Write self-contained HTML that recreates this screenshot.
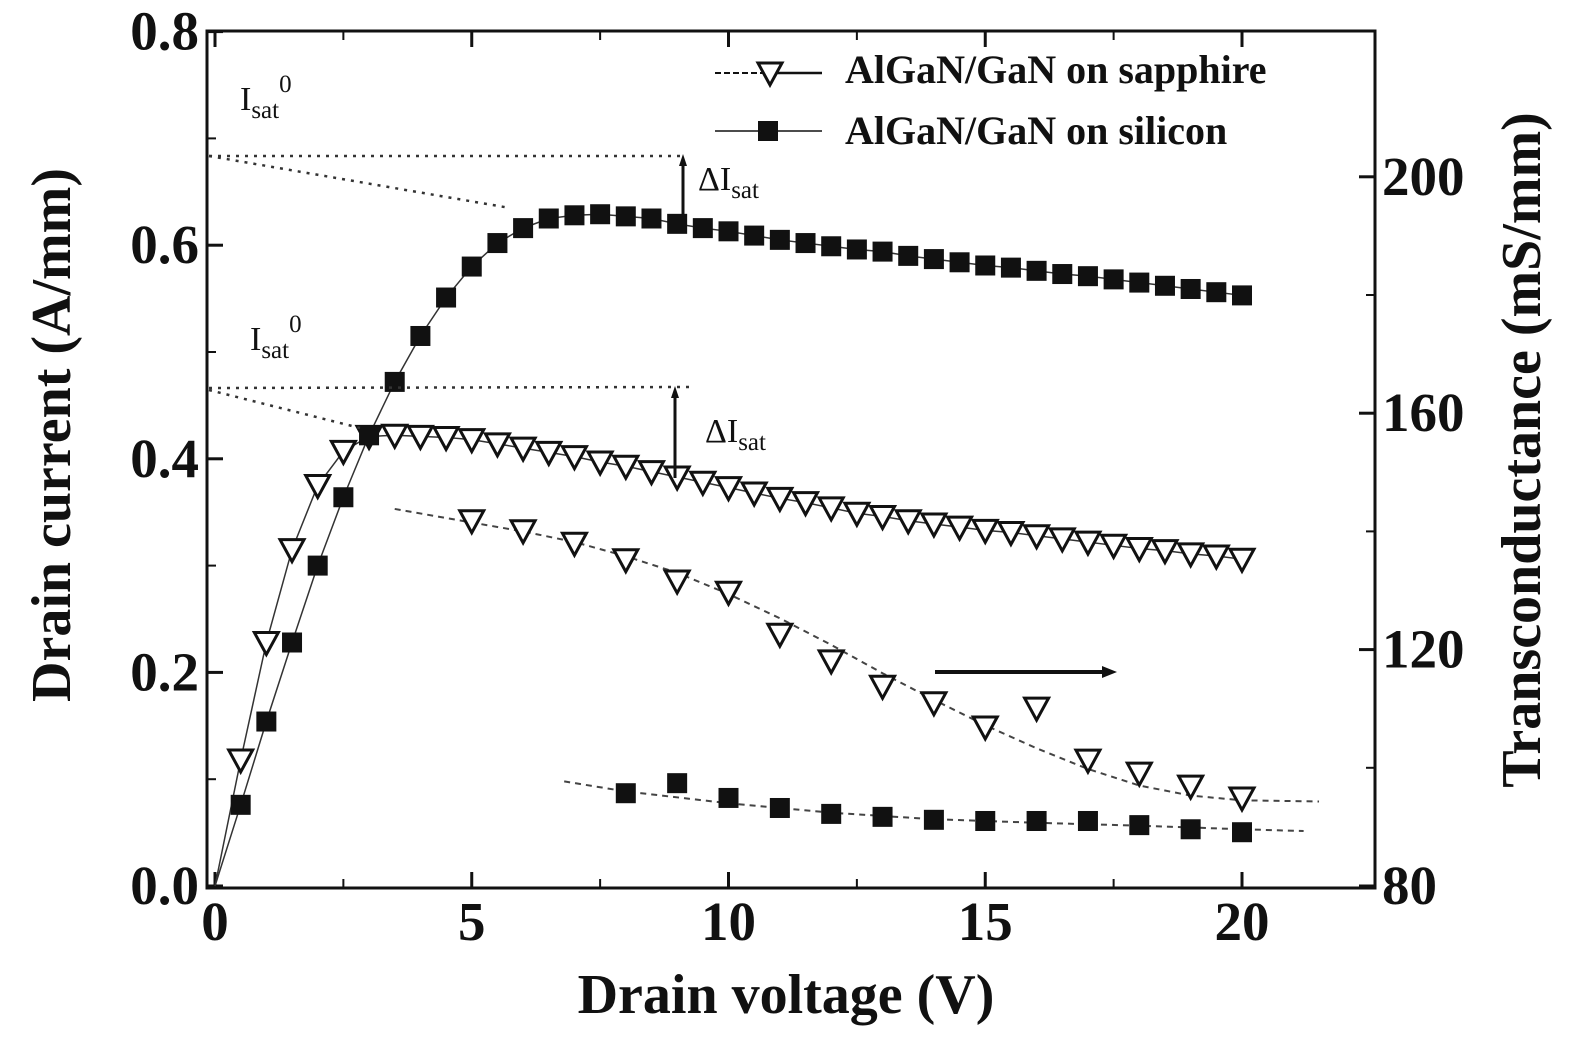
<!DOCTYPE html>
<html><head><meta charset="utf-8"><style>
body{margin:0;background:#fff}
svg{display:block;font-family:"Liberation Serif",serif}
.tk{font-weight:bold;font-size:55px;fill:#111}
.ti{font-weight:bold;font-size:56px;fill:#111}
</style></head><body>
<svg id="chart" width="1575" height="1051" viewBox="0 0 1575 1051"></svg>
<script>
const xs = [0.5,1,1.5,2,2.5,3,3.5,4,4.5,5,5.5,6,6.5,7,7.5,8,8.5,9,9.5,10,10.5,11,11.5,12,12.5,13,13.5,14,14.5,15,15.5,16,16.5,17,17.5,18,18.5,19,19.5,20];
const siliconId = [0.076,0.154,0.228,0.300,0.364,0.422,0.472,0.515,0.551,0.580,0.602,0.616,0.625,0.628,0.629,0.627,0.625,0.620,0.616,0.613,0.609,0.605,0.602,0.599,0.596,0.594,0.590,0.587,0.584,0.581,0.579,0.576,0.573,0.571,0.568,0.565,0.562,0.559,0.556,0.553];
const sapphireId = [0.118,0.228,0.315,0.375,0.407,0.421,0.422,0.421,0.420,0.418,0.414,0.410,0.406,0.402,0.397,0.393,0.388,0.383,0.378,0.373,0.368,0.363,0.359,0.354,0.349,0.346,0.342,0.339,0.336,0.333,0.331,0.328,0.325,0.322,0.319,0.316,0.314,0.311,0.309,0.306];
const gmSapX = [5,6,7,8,9,10,11,12,13,14,15,16,17,18,19,20];
const gmSap = [141.8,140.1,138.0,135.2,131.6,129.7,122.6,118.1,113.8,111.0,106.9,110.1,101.3,99.1,96.9,94.9];
const gmSapFitX = [3.5,5,6,7,8,9,10,11,12,13,14,15,16,17,18,19,20,21.5];
const gmSapFit = [143.8,141.5,140.0,138.2,135.8,133.0,129.4,125.3,120.8,116.0,111.5,107.2,103.3,99.8,97.0,95.3,94.5,94.3];
const gmSiX = [8,9,10,11,12,13,14,15,16,17,18,19,20];
const gmSi = [95.7,97.4,94.9,93.2,92.2,91.7,91.2,91.0,91.0,91.0,90.3,89.6,89.1];
const gmSiFitX = [6.8,8,10,12,14,16,18,20,21.2];
const gmSiFit = [97.7,96.0,94.0,92.4,91.3,90.7,90.2,89.6,89.3];
const xTicks = [0,5,10,15,20];
const yTicks = [0.0,0.2,0.4,0.6,0.8];
const yTickLabels = ["0.0","0.2","0.4","0.6","0.8"];
const y2Ticks = [80,120,160,200];

const NS="http://www.w3.org/2000/svg", svg=document.getElementById('chart');
const X=v=>215+v*51.35, Y=v=>886-v*1068, Y2=v=>886-(v-80)*5.91;
function el(t,a,p){const e=document.createElementNS(NS,t);for(const k in a)e.setAttribute(k,a[k]);(p||svg).appendChild(e);return e;}

const frame=el('rect',{x:207,y:31,width:1168,height:857,fill:'none',stroke:'#111','stroke-width':3});



xTicks.forEach(v=>{
  const t=el('line',{x1:X(v),x2:X(v),y1:888,y2:872,stroke:'#111','stroke-width':3});
  
  
  el('line',{x1:X(v),x2:X(v),y1:31,y2:47,stroke:'#111','stroke-width':3});
  const l=el('text',{x:X(v),y:940,'text-anchor':'middle',class:'tk'});l.textContent=v;
  
  
});
for(let v=2.5;v<21;v+=5){el('line',{x1:X(v),x2:X(v),y1:888,y2:879,stroke:'#111','stroke-width':2});el('line',{x1:X(v),x2:X(v),y1:31,y2:40,stroke:'#111','stroke-width':2});}
yTicks.forEach((v,i)=>{
  el('line',{x1:207,x2:223,y1:Y(v),y2:Y(v),stroke:'#111','stroke-width':3});
  const l=el('text',{x:199,y:Y(v)+18,'text-anchor':'end',class:'tk'});l.textContent=yTickLabels[i];
  
  
});
for(let v=0.1;v<0.8;v+=0.2)el('line',{x1:207,x2:216,y1:Y(v),y2:Y(v),stroke:'#111','stroke-width':2});
y2Ticks.forEach(v=>{
  el('line',{x1:1375,x2:1359,y1:Y2(v),y2:Y2(v),stroke:'#111','stroke-width':3});
  const l=el('text',{x:1382,y:Y2(v)+18,class:'tk'});l.textContent=v;
  
  
});
[100,140,180].forEach(v=>el('line',{x1:1375,x2:1366,y1:Y2(v),y2:Y2(v),stroke:'#111','stroke-width':2}));

const xt=el('text',{x:786,y:1013,'text-anchor':'middle',class:'ti'});xt.textContent='Drain voltage (V)';

const yt=el('text',{x:0,y:0,'text-anchor':'middle',class:'ti',transform:'translate(70,435) rotate(-90)'});yt.textContent='Drain current (A/mm)';

const y2t=el('text',{x:0,y:0,'text-anchor':'middle',class:'ti',transform:'translate(1540,450) rotate(-90)'});y2t.textContent='Transconductance  (mS/mm)';


function poly(xa,ya,f,attrs,name){const p=el('polyline',Object.assign({points:xa.map((x,i)=>X(x)+','+f(ya[i])).join(' '),fill:'none'},attrs));
 }
poly([0].concat(xs),[0].concat(siliconId),Y,{stroke:'#333','stroke-width':1.5},'silicon-id-line');
poly([0].concat(xs),[0].concat(sapphireId),Y,{stroke:'#333','stroke-width':1.5},'sapphire-id-line');
poly(gmSapFitX,gmSapFit,Y2,{stroke:'#444','stroke-width':2,'stroke-dasharray':'6 5'},'sapphire-gm-fit');
poly(gmSiFitX,gmSiFit,Y2,{stroke:'#444','stroke-width':2,'stroke-dasharray':'6 5'},'silicon-gm-fit');

function tri(cx,cy,name){const p=el('polygon',{points:`${cx-12},${cy-10} ${cx+12},${cy-10} ${cx},${cy+12}`,fill:'#fff',stroke:'#111','stroke-width':3});
 }
function sq(cx,cy,name){const r=el('rect',{x:cx-10,y:cy-10,width:20,height:20,fill:'#111'});
 }
xs.forEach((x,i)=>tri(X(x),Y(sapphireId[i]),'sapphire-id-point'));
xs.forEach((x,i)=>sq(X(x),Y(siliconId[i]),'silicon-id-point'));
gmSapX.forEach((x,i)=>tri(X(x),Y2(gmSap[i]),'sapphire-gm-point'));
gmSiX.forEach((x,i)=>sq(X(x),Y2(gmSi[i]),'silicon-gm-point'));

const dot={stroke:'#333','stroke-width':2.5,'stroke-dasharray':'3 6'};
el('line',Object.assign({x1:209,y1:156,x2:683,y2:156},dot));
el('line',Object.assign({x1:209,y1:156,x2:510,y2:208},dot));
el('line',Object.assign({x1:209,y1:388,x2:692,y2:387},dot));
el('line',Object.assign({x1:209,y1:390,x2:360,y2:428},dot));
el('line',{x1:683,y1:220,x2:683,y2:160,stroke:'#111','stroke-width':3});
el('polygon',{points:'683,154 679,166 687,166',fill:'#111'});
el('line',{x1:675,y1:478,x2:675,y2:392,stroke:'#111','stroke-width':3});
el('polygon',{points:'675,386 671,398 679,398',fill:'#111'});
el('line',{x1:935,y1:672,x2:1105,y2:672,stroke:'#111','stroke-width':4});
el('polygon',{points:'1117,672 1102,666 1102,678',fill:'#111'});
function lab(x,y,txt,fs){const t=el('text',{x:x,y:y,'font-size':fs||34,fill:'#111'});t.innerHTML=txt;
 }
lab(240,110,'I<tspan font-size="25" dy="8">sat</tspan><tspan font-size="25" dy="-26">0</tspan>');
lab(250,350,'I<tspan font-size="25" dy="8">sat</tspan><tspan font-size="25" dy="-26">0</tspan>');
lab(698,190,'ΔI<tspan font-size="25" dy="8">sat</tspan>');
lab(705,442,'ΔI<tspan font-size="25" dy="8">sat</tspan>');

const lg=el('g',{});
el('line',{x1:715,y1:73,x2:770,y2:73,stroke:'#111','stroke-width':2,'stroke-dasharray':'6 3'},lg);
el('line',{x1:770,y1:73,x2:822,y2:73,stroke:'#111','stroke-width':2.5},lg);
tri(770,73,'legend-sapphire-marker');
el('line',{x1:715,y1:131,x2:822,y2:131,stroke:'#111','stroke-width':1.5},lg);
sq(768,131,'legend-silicon-marker');
const l1=el('text',{x:845,y:83,class:'tk',style:'font-size:40px'},lg);l1.textContent='AlGaN/GaN on sapphire';

const l2=el('text',{x:845,y:144,class:'tk',style:'font-size:40px'},lg);l2.textContent='AlGaN/GaN on silicon';

</script>
</body></html>
